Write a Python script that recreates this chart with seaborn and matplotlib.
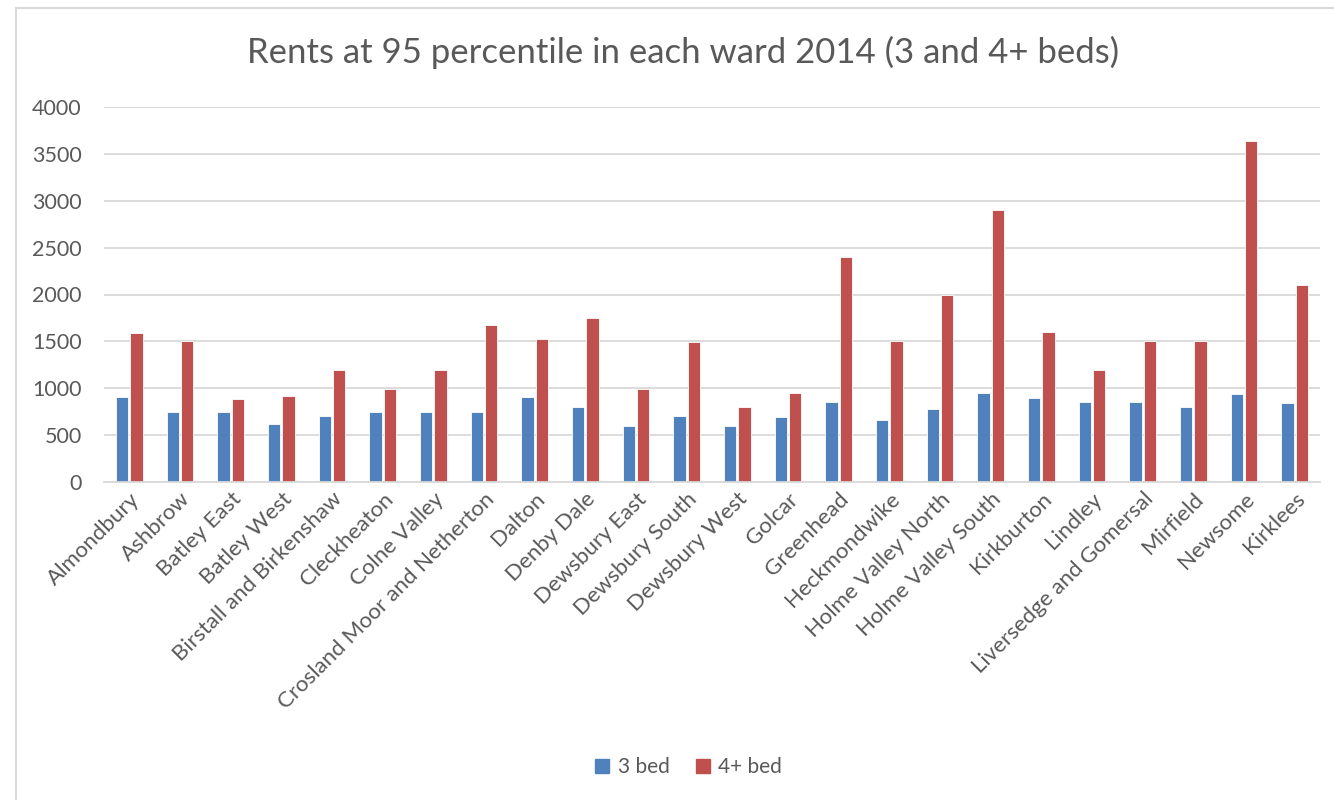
import matplotlib
matplotlib.use("Agg")
import matplotlib.pyplot as plt
import seaborn as sns
import pandas as pd
from matplotlib.patches import Rectangle
from matplotlib.lines import Line2D

wards = [
    "Almondbury", "Ashbrow", "Batley East", "Batley West",
    "Birstall and Birkenshaw", "Cleckheaton", "Colne Valley",
    "Crosland Moor and Netherton", "Dalton", "Denby Dale", "Dewsbury East",
    "Dewsbury South", "Dewsbury West", "Golcar", "Greenhead", "Heckmondwike",
    "Holme Valley North", "Holme Valley South", "Kirkburton", "Lindley",
    "Liversedge and Gomersal", "Mirfield", "Newsome", "Kirklees",
]
rent_3bed = [910, 750, 750, 620, 700, 750, 750, 750, 910, 795, 600, 700,
             600, 690, 850, 660, 775, 950, 895, 850, 850, 795, 935, 840]
rent_4bed = [1590, 1500, 885, 920, 1200, 995, 1200, 1680, 1530, 1750, 995, 1490,
             800, 950, 2400, 1500, 2000, 2900, 1600, 1200, 1500, 1500, 3640, 2100]
series_names = ["3 bed", "4+ bed"]
palette = ["#4F81BD", "#C0504D"]
y_ticks = [0, 500, 1000, 1500, 2000, 2500, 3000, 3500, 4000]

df = pd.DataFrame({
    "Ward": wards * 2,
    "Rent": rent_3bed + rent_4bed,
    "Size": [series_names[0]] * len(wards) + [series_names[1]] * len(wards),
})

sns.set_theme(style="white")
plt.rcParams["font.family"] = ["Lato", "DejaVu Sans"]
text_color = "#595959"
grid_color = "#D9D9D9"

W, H = 1334, 800
fig = plt.figure(figsize=(W / 100, H / 100), dpi=100)
ax = fig.add_axes([104 / W, 1 - 482 / H, (1320 - 104) / W, (482 - 107) / H])

sns.barplot(data=df, x="Ward", y="Rent", hue="Size", order=wards,
            hue_order=series_names, palette=palette, width=0.56, gap=0.12,
            saturation=1, edgecolor="white", linewidth=0.6, ax=ax, legend=False)

ax.set_ylim(0, 4000)
ax.set_xlim(-0.5, len(wards) - 0.5)
ax.set_yticks(y_ticks)
ax.set_yticklabels([str(v) for v in y_ticks], color=text_color, fontsize=15.5)
ax.yaxis.grid(True, color=grid_color, linewidth=1.3)
ax.set_axisbelow(True)
for side in ["top", "right", "left"]:
    ax.spines[side].set_visible(False)
ax.spines["bottom"].set_color(grid_color)
ax.spines["bottom"].set_linewidth(1.3)
ax.tick_params(axis="y", length=0, pad=16)
ax.tick_params(axis="x", length=0, pad=5)
ax.set_xticks(range(len(wards)))
ax.set_xticklabels(wards, rotation=45, ha="right", rotation_mode="anchor",
                   color=text_color, fontsize=16)
ax.set_xlabel("")
ax.set_ylabel("")

fig.text(683 / W, 1 - 52 / H, "Rents at 95 percentile in each ward 2014 (3 and 4+ beds)",
         ha="center", va="center", fontsize=25, color=text_color)

handles = [Line2D([], [], marker="s", linestyle="", markersize=10,
                  markerfacecolor=c, markeredgecolor=c) for c in palette]
fig.legend(handles, series_names, loc="center", bbox_to_anchor=(688 / W, 1 - 767 / H),
           ncol=2, frameon=False, fontsize=15, labelcolor=text_color,
           handlelength=0.8, handletextpad=0.35, columnspacing=1.2)

# chart area frame
fig.add_artist(Rectangle((15.5 / W, -0.05), 2, 1 - 8 / H + 0.05,
                         transform=fig.transFigure, fill=False,
                         edgecolor=grid_color, linewidth=1.5))

fig.savefig("out.png", dpi=100, facecolor="white")
